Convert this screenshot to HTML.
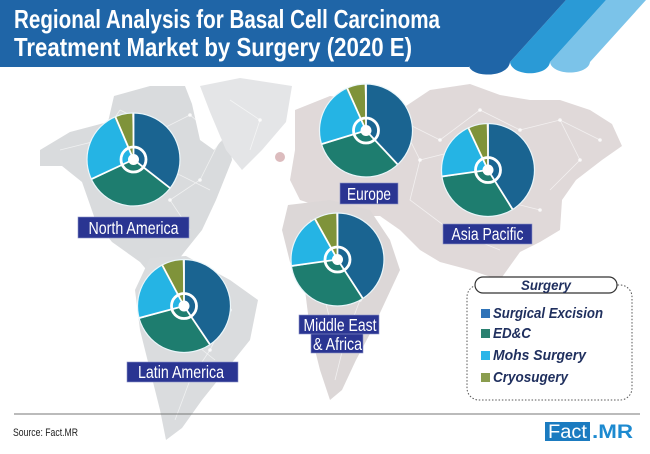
<!DOCTYPE html>
<html><head><meta charset="utf-8"><style>
html,body{margin:0;padding:0;background:#fff;}
svg{display:block;}
</style></head><body>
<svg width="650" height="454" viewBox="0 0 650 454" xmlns="http://www.w3.org/2000/svg" font-family="Liberation Sans, sans-serif">
<rect width="650" height="454" fill="#fff"/>
<!-- map -->
<g>
<path d="M40,150 L70,132 L108,122 L114,96 L150,86 L185,86 L192,104 L200,140 L214,150 L228,132 L232,160 L216,200 L202,230 L186,250 L172,268 L176,285 L160,286 L140,262 L112,242 L96,222 L82,182 L62,166 L40,166 Z" fill="#d9dbdd"/>
<path d="M200,86 L240,78 L292,86 L286,122 L262,150 L242,170 L226,150 L210,112 Z" fill="#e4e5e7"/>
<path d="M150,258 L186,256 L230,280 L258,300 L250,340 L226,370 L202,400 L182,428 L166,440 L160,410 L150,370 L140,330 L135,290 Z" fill="#dadcde"/>
<path d="M295,110 L330,96 L362,100 L400,110 L430,90 L470,84 L500,95 L530,100 L560,100 L590,110 L612,124 L622,146 L602,160 L576,180 L562,200 L560,230 L540,242 L520,252 L500,280 L470,270 L440,262 L420,250 L400,230 L380,216 L360,216 L330,210 L300,200 L290,180 L295,150 Z" fill="#e0d9d9"/>
<path d="M288,205 L330,200 L370,210 L390,240 L400,270 L386,300 L372,330 L356,360 L342,390 L330,400 L320,370 L310,330 L305,290 L290,262 L282,230 Z" fill="#dcd7d7"/>
<circle cx="280" cy="157" r="5" fill="#dcbcbe"/>
<g stroke="#fff" stroke-opacity="0.6" stroke-width="0.8" fill="none">
<path d="M120,110 L160,130 L190,115 L220,140 L200,180 L170,200 L190,230 M160,130 L150,170 L180,175 L210,190 M230,100 L260,120 L250,150 M170,290 L200,300 L230,310 L210,350 L190,380 L175,420 M200,300 L190,340 L215,360 M60,150 L100,140 L120,110"/>
<path d="M320,120 L360,140 L400,120 L440,140 L480,110 L520,130 L560,120 L600,140 M400,120 L420,160 L460,150 L500,200 L540,210 M420,160 L410,200 L450,230 L500,250 M560,120 L580,160 L550,190 M310,220 L350,240 L380,270 L360,300 L345,340 L335,380 M350,240 L320,280 L330,320"/>
</g>
<g fill="#fff" fill-opacity="0.8">
<circle cx="160" cy="130" r="1.8"/><circle cx="190" cy="115" r="1.8"/><circle cx="220" cy="140" r="1.8"/><circle cx="200" cy="180" r="1.8"/><circle cx="170" cy="200" r="1.8"/><circle cx="260" cy="120" r="1.8"/><circle cx="200" cy="300" r="1.8"/><circle cx="230" cy="310" r="1.8"/><circle cx="210" cy="350" r="1.8"/><circle cx="190" cy="380" r="1.8"/>
<circle cx="400" cy="120" r="1.8"/><circle cx="440" cy="140" r="1.8"/><circle cx="480" cy="110" r="1.8"/><circle cx="520" cy="130" r="1.8"/><circle cx="560" cy="120" r="1.8"/><circle cx="600" cy="140" r="1.8"/><circle cx="420" cy="160" r="1.8"/><circle cx="540" cy="210" r="1.8"/><circle cx="580" cy="160" r="1.8"/><circle cx="380" cy="270" r="1.8"/><circle cx="360" cy="300" r="1.8"/><circle cx="345" cy="340" r="1.8"/>
</g>
</g>
<!-- header -->
<path d="M606,0 L646,0 L590,62 C588,76 552,76 550,62 Z" fill="#7bc3e9"/>
<path d="M566,0 L606,0 L550,62 C548,77 512,77 510,62 Z" fill="#2a9ad6"/>
<path d="M0,0 H566 L510,62 C508,78 472,78 469,66 L469,67 H0 Z" fill="#1f65a7"/>
<text x="14" y="28" font-size="26" font-weight="bold" fill="#fff" textLength="426" lengthAdjust="spacingAndGlyphs">Regional Analysis for Basal Cell Carcinoma</text>
<text x="14" y="56" font-size="26" font-weight="bold" fill="#fff" textLength="398" lengthAdjust="spacingAndGlyphs">Treatment Market by Surgery (2020 E)</text>

<defs>
<g id="ring"><circle r="12.5" fill="none" stroke="#fff" stroke-width="2.8"/><circle r="5.5" fill="#fff"/></g>
</defs>

<!-- North America -->
<g transform="translate(133.5,159.5)">
<g transform="rotate(-90)" fill="none" stroke-width="46.5">
<circle r="23.25" pathLength="360" stroke="#1a6491" stroke-dasharray="128 360" stroke-dashoffset="0"/>
<circle r="23.25" pathLength="360" stroke="#1e7d6f" stroke-dasharray="117 360" stroke-dashoffset="-128"/>
<circle r="23.25" pathLength="360" stroke="#25b4e4" stroke-dasharray="92 360" stroke-dashoffset="-245"/>
<circle r="23.25" pathLength="360" stroke="#7f933a" stroke-dasharray="23 360" stroke-dashoffset="-337"/>
</g>
<g stroke="#fff" stroke-width="1.8"><line x1="0" y1="0" x2="0" y2="-47"/><line x1="0" y1="0" x2="0" y2="-47" transform="rotate(128)"/><line x1="0" y1="0" x2="0" y2="-47" transform="rotate(245)"/><line x1="0" y1="0" x2="0" y2="-47" transform="rotate(337)"/></g>
<circle r="46.5" fill="none" stroke="#eaf6fa" stroke-width="1.2"/>
<use href="#ring"/>
</g>

<!-- Europe -->
<g transform="translate(366,130.5)">
<g transform="rotate(-90)" fill="none" stroke-width="46.5">
<circle r="23.25" pathLength="360" stroke="#1a6491" stroke-dasharray="137 360" stroke-dashoffset="0"/>
<circle r="23.25" pathLength="360" stroke="#1e7d6f" stroke-dasharray="116 360" stroke-dashoffset="-137"/>
<circle r="23.25" pathLength="360" stroke="#25b4e4" stroke-dasharray="83 360" stroke-dashoffset="-253"/>
<circle r="23.25" pathLength="360" stroke="#7f933a" stroke-dasharray="24 360" stroke-dashoffset="-336"/>
</g>
<g stroke="#fff" stroke-width="1.8"><line x1="0" y1="0" x2="0" y2="-47"/><line x1="0" y1="0" x2="0" y2="-47" transform="rotate(137)"/><line x1="0" y1="0" x2="0" y2="-47" transform="rotate(253)"/><line x1="0" y1="0" x2="0" y2="-47" transform="rotate(336)"/></g>
<circle r="46.5" fill="none" stroke="#eaf6fa" stroke-width="1.2"/>
<use href="#ring"/>
</g>

<!-- Asia Pacific -->
<g transform="translate(488,170)">
<g transform="rotate(-90)" fill="none" stroke-width="46.5">
<circle r="23.25" pathLength="360" stroke="#1a6491" stroke-dasharray="148 360" stroke-dashoffset="0"/>
<circle r="23.25" pathLength="360" stroke="#1e7d6f" stroke-dasharray="114 360" stroke-dashoffset="-148"/>
<circle r="23.25" pathLength="360" stroke="#25b4e4" stroke-dasharray="73 360" stroke-dashoffset="-262"/>
<circle r="23.25" pathLength="360" stroke="#7f933a" stroke-dasharray="25 360" stroke-dashoffset="-335"/>
</g>
<g stroke="#fff" stroke-width="1.8"><line x1="0" y1="0" x2="0" y2="-47"/><line x1="0" y1="0" x2="0" y2="-47" transform="rotate(148)"/><line x1="0" y1="0" x2="0" y2="-47" transform="rotate(262)"/><line x1="0" y1="0" x2="0" y2="-47" transform="rotate(335)"/></g>
<circle r="46.5" fill="none" stroke="#eaf6fa" stroke-width="1.2"/>
<use href="#ring"/>
</g>

<!-- Latin America -->
<g transform="translate(184,306)">
<g transform="rotate(-90)" fill="none" stroke-width="46.5">
<circle r="23.25" pathLength="360" stroke="#1a6491" stroke-dasharray="146 360" stroke-dashoffset="0"/>
<circle r="23.25" pathLength="360" stroke="#1e7d6f" stroke-dasharray="109 360" stroke-dashoffset="-146"/>
<circle r="23.25" pathLength="360" stroke="#25b4e4" stroke-dasharray="77 360" stroke-dashoffset="-255"/>
<circle r="23.25" pathLength="360" stroke="#7f933a" stroke-dasharray="28 360" stroke-dashoffset="-332"/>
</g>
<g stroke="#fff" stroke-width="1.8"><line x1="0" y1="0" x2="0" y2="-47"/><line x1="0" y1="0" x2="0" y2="-47" transform="rotate(146)"/><line x1="0" y1="0" x2="0" y2="-47" transform="rotate(255)"/><line x1="0" y1="0" x2="0" y2="-47" transform="rotate(332)"/></g>
<circle r="46.5" fill="none" stroke="#eaf6fa" stroke-width="1.2"/>
<use href="#ring"/>
</g>

<!-- Middle East & Africa -->
<g transform="translate(337.5,259.5)">
<g transform="rotate(-90)" fill="none" stroke-width="46.5">
<circle r="23.25" pathLength="360" stroke="#1a6491" stroke-dasharray="147 360" stroke-dashoffset="0"/>
<circle r="23.25" pathLength="360" stroke="#1e7d6f" stroke-dasharray="115 360" stroke-dashoffset="-147"/>
<circle r="23.25" pathLength="360" stroke="#25b4e4" stroke-dasharray="69 360" stroke-dashoffset="-262"/>
<circle r="23.25" pathLength="360" stroke="#7f933a" stroke-dasharray="29 360" stroke-dashoffset="-331"/>
</g>
<g stroke="#fff" stroke-width="1.8"><line x1="0" y1="0" x2="0" y2="-47"/><line x1="0" y1="0" x2="0" y2="-47" transform="rotate(147)"/><line x1="0" y1="0" x2="0" y2="-47" transform="rotate(262)"/><line x1="0" y1="0" x2="0" y2="-47" transform="rotate(331)"/></g>
<circle r="46.5" fill="none" stroke="#eaf6fa" stroke-width="1.2"/>
<use href="#ring"/>
</g>

<!-- region labels -->
<g fill="#2a3592" stroke="#8c93c8" stroke-width="0.6">
<rect x="78" y="217" width="111" height="21"/>
<rect x="340" y="183" width="58" height="21"/>
<rect x="443" y="224" width="89" height="20"/>
<rect x="127" y="362" width="111" height="20"/>
<rect x="311" y="333" width="52" height="20"/>
<rect x="299" y="315" width="80" height="19"/>
</g>
<g fill="#fff" font-size="17.5" text-anchor="middle">
<text x="133.5" y="234" textLength="90" lengthAdjust="spacingAndGlyphs">North America</text>
<text x="369" y="200" textLength="44" lengthAdjust="spacingAndGlyphs">Europe</text>
<text x="487.5" y="240" textLength="72" lengthAdjust="spacingAndGlyphs">Asia Pacific</text>
<text x="181" y="378" textLength="86" lengthAdjust="spacingAndGlyphs">Latin America</text>
<text x="340" y="331" textLength="73" lengthAdjust="spacingAndGlyphs">Middle East</text>
<text x="337.5" y="350" textLength="49" lengthAdjust="spacingAndGlyphs">&amp; Africa</text>
</g>

<!-- legend -->
<rect x="467" y="285" width="165" height="115" rx="12" fill="#fff" stroke="#555" stroke-width="1" stroke-dasharray="1.5 1.8"/>
<rect x="475" y="277" width="142" height="16" rx="8" fill="#fff" stroke="#333" stroke-width="1.2"/>
<text x="546" y="290" font-size="14" font-weight="bold" font-style="italic" fill="#1f2f5e" text-anchor="middle" textLength="50" lengthAdjust="spacingAndGlyphs">Surgery</text>
<rect x="481" y="309" width="9" height="9" fill="#2f73b8"/>
<rect x="481" y="329" width="9" height="9" fill="#2a8070"/>
<rect x="481" y="351" width="9" height="9" fill="#2bb5e8"/>
<rect x="481" y="373" width="9" height="9" fill="#8a9d4e"/>
<g font-size="15" font-weight="bold" font-style="italic" fill="#1f2f5e">
<text x="493" y="318" textLength="110" lengthAdjust="spacingAndGlyphs">Surgical Excision</text>
<text x="493" y="338" textLength="38" lengthAdjust="spacingAndGlyphs">ED&amp;C</text>
<text x="493" y="360" textLength="93" lengthAdjust="spacingAndGlyphs">Mohs Surgery</text>
<text x="493" y="382" textLength="75" lengthAdjust="spacingAndGlyphs">Cryosugery</text>
</g>

<!-- footer -->
<line x1="14" y1="414" x2="640" y2="414" stroke="#777" stroke-width="1"/>
<text x="13" y="436" font-size="11" fill="#222" textLength="65" lengthAdjust="spacingAndGlyphs">Source: Fact.MR</text>
<rect x="545" y="422" width="45" height="19" fill="#1b7bc0"/>
<text x="548" y="438" font-size="19" fill="#fff" textLength="39" lengthAdjust="spacingAndGlyphs">Fact</text>
<text x="592" y="438" font-size="19" font-weight="bold" fill="#1d8ad0" textLength="41" lengthAdjust="spacingAndGlyphs">.MR</text>
</svg>
</body></html>
